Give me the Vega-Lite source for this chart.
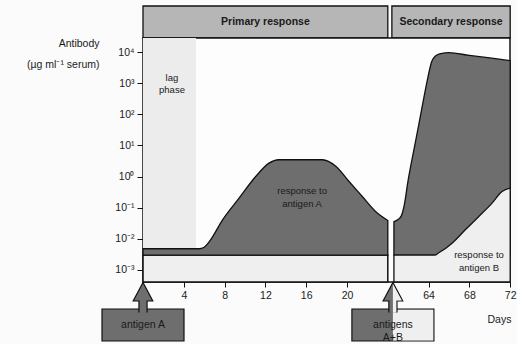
{
  "$schema": "https://vega.github.io/schema/vega-lite/v6.json",
  "background": "#fbfbfb",
  "padding": {"left": 22, "top": 5, "right": 0, "bottom": 0},
  "bounds": "flush",
  "spacing": 0,
  "config": {
    "font": "Liberation Sans",
    "axis": {"labelFont": "Liberation Sans", "titleFont": "Liberation Sans"},
    "text": {"font": "Liberation Sans"}
  },
  "resolve": {"scale": {"x": "independent", "y": "independent"}},
  "datasets": {
    "phases": [
      {"phase": "Primary response", "start": 0, "end": 24},
      {"phase": "Secondary response", "start": 60.4, "end": 72}
    ],
    "lag": [{"period": "lag", "start": 0, "end": 5.2}],
    "bands": [
      {"segment": "primary", "start": 0, "end": 24}
    ],
    "primaryA": [
      {"day": 0, "antibody": 0.00479},
      {"day": 5.5, "antibody": 0.00479},
      {"day": 6.0, "antibody": 0.00537},
      {"day": 6.5, "antibody": 0.00813},
      {"day": 7.8, "antibody": 0.0407},
      {"day": 9.4, "antibody": 0.1995},
      {"day": 11.05, "antibody": 1.0},
      {"day": 12.35, "antibody": 2.69},
      {"day": 13.3, "antibody": 3.47},
      {"day": 17.6, "antibody": 3.47},
      {"day": 18.9, "antibody": 2.14},
      {"day": 20.2, "antibody": 0.692},
      {"day": 21.5, "antibody": 0.229},
      {"day": 22.8, "antibody": 0.0759},
      {"day": 24.0, "antibody": 0.0389}
    ],
    "secondary": [
      {"day": 60.6, "antibody": 0.0355},
      {"day": 61.0, "antibody": 0.0417},
      {"day": 61.3, "antibody": 0.0525},
      {"day": 61.6, "antibody": 0.115},
      {"day": 62.0, "antibody": 0.776},
      {"day": 62.5, "antibody": 5.75},
      {"day": 63.0, "antibody": 39.8},
      {"day": 63.5, "antibody": 295},
      {"day": 63.9, "antibody": 1380},
      {"day": 64.3, "antibody": 4900},
      {"day": 64.7, "antibody": 7590},
      {"day": 65.2, "antibody": 8910},
      {"day": 66.0, "antibody": 9550},
      {"day": 68.0, "antibody": 7760},
      {"day": 70.0, "antibody": 6460},
      {"day": 72.0, "antibody": 5250}
    ],
    "curveB": [
      {"day": 60.6, "antibody": 0.003},
      {"day": 64.6, "antibody": 0.003},
      {"day": 65.0, "antibody": 0.00355},
      {"day": 66.3, "antibody": 0.00724},
      {"day": 67.6, "antibody": 0.0195},
      {"day": 68.9, "antibody": 0.0513},
      {"day": 70.2, "antibody": 0.138},
      {"day": 71.2, "antibody": 0.331},
      {"day": 72.0, "antibody": 0.427}
    ],
    "notes": [
      {"label": "lag\nphase", "day": 2.84, "antibody": 1480},
      {"label": "response to\nantigen A", "day": 15.6, "antibody": 0.334},
      {"label": "response to\nantigen B", "day": 68.94, "antibody": 0.00292}
    ],
    "injections": [
      {"antigen": "antigen A", "label": "antigen A", "day": 0},
      {"antigen": "antigens A+B", "label": "antigens\nA+B", "day": 60.5}
    ]
  },
  "vconcat": [
    {
      "width": 367,
      "height": 32,
      "view": {"stroke": null},
      "data": {"name": "phases"},
      "layer": [
        {
          "mark": {"type": "rect", "fill": "#b6b6b6", "stroke": "#111", "strokeWidth": 1.3},
          "encoding": {
            "x": {"field": "start", "type": "quantitative", "axis": null,
                  "scale": {"domain": [0, 24, 60, 72], "range": [0, 244.8, 244.8, 367.2], "nice": false, "zero": false}},
            "x2": {"field": "end"}
          }
        },
        {
          "transform": [{"calculate": "(datum.start + datum.end) / 2", "as": "mid"}],
          "mark": {"type": "text", "fontWeight": "bold", "fontSize": 10.5, "color": "#1a1a1a"},
          "encoding": {
            "x": {"field": "mid", "type": "quantitative", "axis": null,
                  "scale": {"domain": [0, 24, 60, 72], "range": [0, 244.8, 244.8, 367.2], "nice": false, "zero": false}},
            "text": {"field": "phase"}
          }
        }
      ]
    },
    {
      "width": 367,
      "height": 244,
      "view": {"stroke": "#111", "strokeWidth": 1.5, "fill": "#fdfdfd"},
      "layer": [
        {
          "data": {"name": "lag"},
          "mark": {"type": "rect", "fill": "#ececec"},
          "encoding": {
            "x": {"field": "start", "type": "quantitative",
                  "scale": {"domain": [0, 24, 60, 72], "range": [0, 244.8, 244.8, 367.2], "nice": false, "zero": false},
                  "axis": {"values": [4, 8, 12, 16, 20, 64, 68, 72], "domain": false, "grid": false,
                           "tickSize": 5, "tickColor": "#111", "labelFontSize": 10.5, "labelColor": "#1a1a1a",
                           "labelPadding": 3, "labelFlush": false,
                           "title": "Days", "titleX": 356, "titleY": 37, "titleAlign": "center",
                           "titleBaseline": "middle", "titleFontSize": 10.5, "titleFontWeight": "normal", "titleColor": "#1a1a1a"}},
            "x2": {"field": "end"}
          }
        },
        {
          "data": {"name": "bands"},
          "mark": {"type": "rect", "fill": "#efefef", "stroke": "#111", "strokeWidth": 1.5},
          "encoding": {
            "x": {"field": "start", "type": "quantitative"},
            "x2": {"field": "end"},
            "y": {"datum": 0.003, "type": "quantitative"},
            "y2": {"datum": 0.00041}
          }
        },
        {
          "data": {"name": "primaryA"},
          "mark": {"type": "area", "interpolate": "monotone", "fill": "#6e6e6e", "stroke": "#111", "strokeWidth": 1.3},
          "encoding": {
            "x": {"field": "day", "type": "quantitative"},
            "y": {"field": "antibody", "type": "quantitative",
                  "scale": {"type": "log", "domain": [0.00041, 28200], "nice": false},
                  "axis": {"values": [0.001, 0.01, 0.1, 1, 10, 100, 1000, 10000],
                           "labelExpr": "'10' + ['⁻³','⁻²','⁻¹','⁰','¹','²','³','⁴'][round(log(datum.value)/LN10) + 3]",
                           "domain": false, "grid": false, "tickSize": 6, "tickColor": "#111",
                           "labelFontSize": 10.5, "labelColor": "#1a1a1a", "labelPadding": 3,
                           "title": ["Antibody", "(µg ml⁻¹  serum)"], "titleAngle": 0, "titleAlign": "right",
                           "titleBaseline": "top", "titleX": -44, "titleY": 0, "titleLineHeight": 21,
                           "titleFontSize": 10.5, "titleFontWeight": "normal", "titleColor": "#1a1a1a"}},
            "y2": {"datum": 0.003}
          }
        },
        {
          "data": {"name": "secondary"},
          "mark": {"type": "area", "interpolate": "monotone", "fill": "#6e6e6e", "stroke": "#111", "strokeWidth": 1.3},
          "encoding": {
            "x": {"field": "day", "type": "quantitative"},
            "y": {"field": "antibody", "type": "quantitative"},
            "y2": {"datum": 0.003}
          }
        },
        {
          "data": {"name": "curveB"},
          "mark": {"type": "area", "interpolate": "monotone", "fill": "#efefef", "stroke": "#111", "strokeWidth": 1.3},
          "encoding": {
            "x": {"field": "day", "type": "quantitative"},
            "y": {"field": "antibody", "type": "quantitative"},
            "y2": {"datum": 0.00041}
          }
        },
        {
          "data": {"name": "notes"},
          "mark": {"type": "text", "fontSize": 9.5, "color": "#1a1a1a", "lineBreak": "\n", "lineHeight": 12.5, "baseline": "middle"},
          "encoding": {
            "x": {"field": "day", "type": "quantitative"},
            "y": {"field": "antibody", "type": "quantitative"},
            "text": {"field": "label"}
          }
        }
      ]
    },
    {
      "width": 367,
      "height": 60,
      "view": {"stroke": null},
      "data": {"name": "injections"},
      "encoding": {
        "x": {"field": "day", "type": "quantitative", "axis": null,
              "scale": {"domain": [0, 24, 60, 72], "range": [0, 244.8, 244.8, 367.2], "nice": false, "zero": false}}
      },
      "layer": [
        {
          "mark": {"type": "point", "shape": "M-1,-0.39H1V0.39H-1Z", "size": 6724, "filled": true,
                   "fill": "#6e6e6e", "stroke": "#111", "strokeWidth": 1.2, "opacity": 1, "yOffset": 13}
        },
        {
          "transform": [{"filter": "datum.antigen == 'antigens A+B'"}],
          "mark": {"type": "point", "shape": "M0,-0.375H0.985V0.375H0Z", "size": 6724, "filled": true,
                   "fill": "#efefef", "strokeWidth": 0, "opacity": 1, "yOffset": 13}
        },
        {
          "mark": {"type": "point", "shape": "M-0.29,1.15L-0.29,0.32L-0.7,0.32L0,-1L0.7,0.32L0.29,0.32L0.29,1.15",
                   "size": 784, "filled": true, "fill": "#6e6e6e", "stroke": "#111", "strokeWidth": 1.2,
                   "opacity": 1, "yOffset": -15.5}
        },
        {
          "transform": [{"filter": "datum.antigen == 'antigens A+B'"}],
          "mark": {"type": "point", "shape": "M0,-0.9L0.64,0.28L0.245,0.28L0.245,1.15L0,1.15Z",
                   "size": 784, "filled": true, "fill": "#efefef", "strokeWidth": 0, "opacity": 1, "yOffset": -15.5}
        },
        {
          "mark": {"type": "text", "fontSize": 10.5, "color": "#1a1a1a", "lineBreak": "\n", "lineHeight": 13, "yOffset": 13, "baseline": "middle"},
          "encoding": {"text": {"field": "label"}}
        }
      ]
    }
  ]
}
